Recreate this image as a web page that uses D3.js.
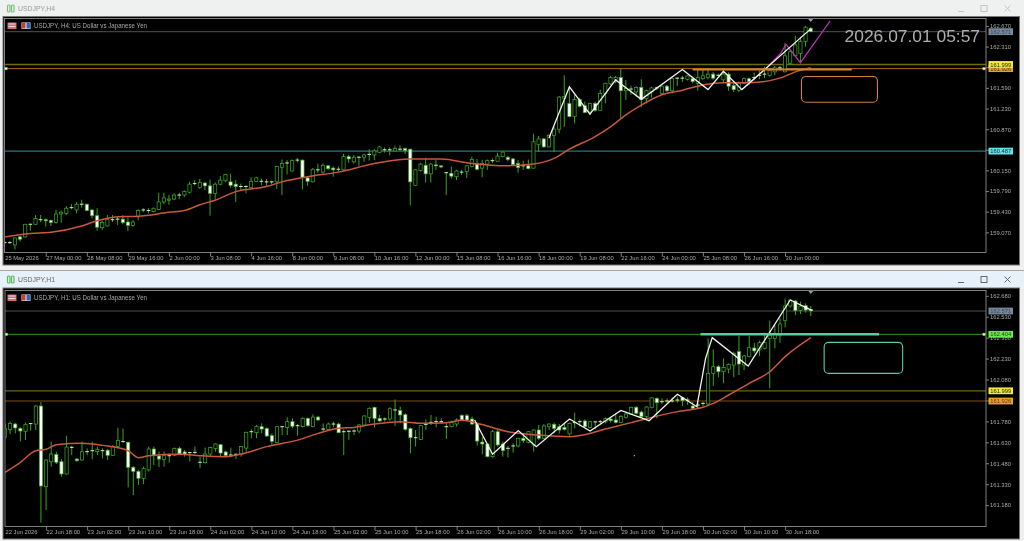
<!DOCTYPE html>
<html><head><meta charset="utf-8">
<script src="https://cdn.jsdelivr.net/npm/d3@7/dist/d3.min.js"></script>
<style>html,body{margin:0;padding:0;background:#f0f0f0;overflow:hidden}svg{display:block;filter:blur(.35px)}text{font-family:"Liberation Sans",Arial,sans-serif}</style>
</head><body><div id="chart"></div>
<script>
// ---------- H4 data: [open, high, low, close]
const h4Ohlc=[
[158.89,158.92,158.87,158.89],[158.89,158.92,158.87,158.89],[158.85,158.98,158.77,158.97],[158.99,159.00,158.91,158.95],[158.99,159.22,158.98,159.21],[159.21,159.22,159.10,159.21],[159.21,159.37,159.20,159.31],[159.29,159.37,159.25,159.29],
[159.29,159.31,159.17,159.27],[159.28,159.29,159.18,159.24],[159.24,159.46,159.22,159.39],[159.39,159.45,159.24,159.42],[159.40,159.53,159.37,159.49],[159.50,159.56,159.47,159.50],[159.46,159.60,159.40,159.56],[159.56,159.64,159.50,159.56],
[159.56,159.57,159.44,159.45],[159.46,159.47,159.31,159.36],[159.36,159.49,159.10,159.16],[159.15,159.27,159.11,159.24],[159.18,159.37,159.17,159.29],[159.29,159.37,159.25,159.29],[159.30,159.35,159.20,159.30],[159.30,159.37,159.21,159.24],
[159.25,159.33,159.09,159.19],[159.19,159.28,159.17,159.25],[159.34,159.47,159.28,159.45],[159.46,159.49,159.42,159.46],[159.45,159.49,159.40,159.45],[159.43,159.50,159.42,159.49],[159.47,159.76,159.46,159.60],[159.60,159.76,159.56,159.67],
[159.63,159.72,159.55,159.65],[159.65,159.75,159.63,159.72],[159.72,159.76,159.65,159.72],[159.72,159.80,159.69,159.78],[159.77,159.95,159.75,159.91],[159.92,159.98,159.89,159.92],[159.85,160.00,159.83,159.94],[159.93,159.95,159.81,159.88],
[159.88,159.99,159.36,159.75],[159.75,159.94,159.64,159.91],[159.91,160.05,159.89,159.98],[159.97,160.09,159.95,160.08],[159.95,160.09,159.85,159.89],[159.91,159.98,159.60,159.87],[159.87,159.92,159.80,159.87],[159.87,159.89,159.75,159.87],
[159.85,160.03,159.83,159.96],[159.96,160.04,159.95,160.02],[159.96,160.01,159.89,159.96],[159.95,160.00,159.88,159.95],[159.95,159.97,159.91,159.95],[159.95,160.23,159.83,160.22],[160.20,160.34,159.72,160.27],[160.28,160.33,160.08,160.28],
[160.14,160.34,160.13,160.32],[160.33,160.37,160.29,160.33],[160.33,160.34,159.82,160.03],[160.02,160.04,159.88,159.96],[159.95,160.19,159.94,160.17],[160.16,160.27,160.11,160.16],[160.12,160.27,160.10,160.24],[160.23,160.24,160.16,160.18],
[160.19,160.22,160.04,160.16],[160.17,160.22,160.13,160.17],[160.16,160.44,160.15,160.39],[160.39,160.42,160.28,160.35],[160.30,160.42,160.27,160.38],[160.38,160.40,160.23,160.38],[160.38,160.44,160.30,160.42],[160.43,160.52,160.32,160.43],
[160.42,160.52,160.33,160.49],[160.46,160.58,160.45,160.56],[160.51,160.55,160.46,160.51],[160.51,160.55,160.41,160.51],[160.49,160.58,160.48,160.53],[160.52,160.59,160.49,160.52],[160.53,160.55,160.44,160.50],[160.52,160.53,159.54,159.95],
[159.89,160.17,159.88,160.16],[160.15,160.28,160.13,160.26],[160.24,160.37,159.94,160.09],[160.09,160.28,159.94,160.26],[160.24,160.33,160.16,160.24],[160.23,160.24,160.19,160.21],[160.11,160.12,159.72,160.11],[160.10,160.22,160.01,160.05],
[160.04,160.16,159.98,160.14],[160.12,160.16,160.07,160.12],[160.13,160.24,160.02,160.23],[160.22,160.39,160.20,160.34],[160.27,160.35,160.15,160.17],[160.19,160.33,160.03,160.27],[160.26,160.34,160.16,160.32],[160.32,160.36,160.28,160.32],
[160.31,160.46,160.30,160.40],[160.39,160.48,160.38,160.47],[160.38,160.40,160.31,160.34],[160.35,160.37,160.24,160.25],[160.27,160.33,160.11,160.20],[160.23,160.32,160.16,160.23],[160.23,160.34,160.17,160.18],[160.19,160.79,160.18,160.65],
[160.60,160.75,160.47,160.70],[160.70,160.71,160.55,160.56],[160.56,160.78,160.55,160.76],[160.76,160.92,160.47,160.87],[160.87,161.45,160.80,161.43],[161.41,161.81,160.91,161.44],[161.32,161.62,161.08,161.09],[161.09,161.47,160.97,161.39],
[161.39,161.42,161.25,161.27],[161.28,161.35,161.15,161.16],[161.17,161.33,161.13,161.32],[161.32,161.35,161.17,161.20],[161.20,161.56,161.19,161.49],[161.49,161.68,161.32,161.67],[161.66,161.80,161.64,161.77],[161.74,161.80,161.67,161.77],
[161.77,161.92,161.06,161.54],[161.54,161.73,161.38,161.58],[161.57,161.63,161.47,161.57],[161.52,161.62,161.44,161.60],[161.60,161.74,161.25,161.39],[161.40,161.56,161.32,161.54],[161.52,161.61,161.42,161.59],[161.59,161.61,161.55,161.59],
[161.49,161.63,161.47,161.62],[161.62,161.64,161.52,161.54],[161.54,161.77,161.49,161.75],[161.76,161.77,161.62,161.76],[161.76,161.80,161.69,161.76],[161.74,161.81,161.72,161.80],[161.75,161.79,161.67,161.70],[161.67,161.93,161.54,161.77],
[161.75,161.90,161.73,161.80],[161.77,161.94,161.74,161.83],[161.83,161.87,161.73,161.76],[161.81,161.84,161.80,161.81],[161.73,161.90,161.67,161.83],[161.83,161.86,161.54,161.62],[161.63,161.67,161.52,161.56],[161.55,161.70,161.52,161.67],
[161.67,161.77,161.66,161.75],[161.75,161.77,161.64,161.70],[161.77,161.86,161.72,161.77],[161.81,161.89,161.74,161.81],[161.83,161.96,161.76,161.83],[161.81,161.93,161.79,161.90],[161.87,161.97,161.81,161.94],[161.94,161.97,161.90,161.94],
[161.87,162.37,161.86,162.15],[162.02,162.26,161.99,162.22],[162.15,162.50,162.13,162.34],[162.19,162.48,162.02,162.40],[162.40,162.67,162.31,162.65],[162.63,162.65,162.57,162.57]];
const h4MaBars=[0,5,9,15,18,22,26,32,35,38,41,45,51,54,59,65,72,79,85,91,98,103,107,110,115,118,121,124,128,132,136,140,145,151,154,157];
const h4MaPrices=[158.99,159.05,159.07,159.18,159.27,159.34,159.35,159.42,159.45,159.55,159.63,159.78,159.87,159.95,160.04,160.12,160.27,160.35,160.35,160.27,160.23,160.26,160.36,160.52,160.74,160.91,161.12,161.29,161.47,161.55,161.64,161.68,161.68,161.76,161.87,161.94];
const h4ZigBars=[106,110,114,119,124,132,137,140,143.6,157];
const h4ZigPrices=[160.71,161.61,161.13,161.73,161.39,161.91,161.56,161.88,161.56,162.62];
const h4TrendBars=[143.6,148.3,151.2,152.2,155,160.8];
const h4TrendPrices=[161.56,161.93,162.20,162.35,162.03,162.76];
const h4PriceTicks=[162.67,162.31,161.95,161.59,161.23,160.87,160.51,160.15,159.79,159.43,159.07];
const h4TimeLabels=["25 May 2026","27 May 00:00","28 May 08:00","29 May 16:00","2 Jun 00:00","3 Jun 08:00","4 Jun 16:00","8 Jun 00:00","9 Jun 08:00","10 Jun 16:00","12 Jun 00:00","15 Jun 08:00","16 Jun 16:00","18 Jun 00:00","19 Jun 08:00","22 Jun 16:00","24 Jun 00:00","25 Jun 08:00","26 Jun 16:00","30 Jun 00:00"];
const h4Levels=[162.571,161.926,161.999,160.487];
const h4Segment={from:134,to:165,price:161.91};
const h4Box={from:155.2,to:170,top:161.79,bottom:161.34};

// ---------- H1 data: [open, high, low, close]
const h1Ohlc=[
[161.666,161.766,161.659,161.728],[161.723,161.778,161.690,161.766],[161.761,161.771,161.694,161.733],[161.730,161.737,161.637,161.711],[161.709,161.771,161.647,161.759],[161.764,161.766,161.714,161.764],[161.761,161.897,161.718,161.890],[161.890,161.919,161.054,161.317],
[161.312,161.508,161.145,161.503],[161.491,161.635,161.456,161.546],[161.544,161.563,161.475,161.487],[161.491,161.510,161.384,161.403],[161.403,161.678,161.398,161.596],[161.594,161.604,161.539,161.594],[161.510,161.515,161.491,161.498],[161.503,161.635,161.498,161.563],
[161.563,161.587,161.539,161.563],[161.570,161.635,161.508,161.570],[161.563,161.599,161.539,161.580],[161.570,161.587,161.515,161.570],[161.573,161.582,161.503,161.537],[161.537,161.611,161.532,161.599],[161.599,161.735,161.587,161.642],[161.635,161.728,161.627,161.635],
[161.630,161.635,161.307,161.451],[161.451,161.460,161.252,161.422],[161.422,161.432,161.324,161.372],[161.372,161.456,161.331,161.441],[161.432,161.599,161.420,161.582],[161.582,161.599,161.467,161.539],[161.532,161.563,161.451,161.510],[161.508,161.563,161.456,161.534],
[161.534,161.551,161.484,161.534],[161.537,161.592,161.532,161.587],[161.587,161.599,161.539,161.546],[161.561,161.575,161.527,161.546],[161.556,161.563,161.491,161.556],[161.558,161.599,161.546,161.558],[161.487,161.527,161.444,161.487],[161.484,161.592,161.479,161.546],
[161.546,161.599,161.527,161.592],[161.585,161.623,161.563,161.618],[161.613,161.618,161.532,161.553],[161.561,161.570,161.527,161.537],[161.539,161.592,161.522,161.539],[161.544,161.551,161.510,161.544],[161.546,161.604,161.527,161.599],[161.589,161.706,161.563,161.702],
[161.706,161.723,161.659,161.706],[161.699,161.754,161.659,161.742],[161.742,161.766,161.694,161.725],[161.728,161.737,161.670,161.675],[161.678,161.694,161.611,161.637],[161.627,161.747,161.623,161.742],[161.742,161.747,161.682,161.742],[161.735,161.809,161.682,161.778],
[161.778,161.802,161.730,161.745],[161.749,161.761,161.678,161.749],[161.742,161.809,161.737,161.802],[161.802,161.807,161.742,161.749],[161.742,161.831,161.737,161.811],[161.811,161.819,161.785,161.790],[161.725,161.766,161.706,161.725],[161.723,161.771,161.718,161.761],
[161.761,161.778,161.737,161.761],[161.761,161.771,161.694,161.699],[161.706,161.723,161.539,161.706],[161.709,161.718,161.647,161.709],[161.711,161.723,161.682,161.711],[161.711,161.761,161.694,161.754],[161.754,161.823,161.747,161.819],[161.809,161.881,161.771,161.874],
[161.881,161.885,161.737,161.802],[161.802,161.826,161.778,161.783],[161.797,161.809,161.778,161.797],[161.797,161.881,161.785,161.871],[161.862,161.938,161.747,161.862],[161.857,161.885,161.766,161.826],[161.828,161.838,161.714,161.723],[161.728,161.737,161.551,161.663],
[161.663,161.718,161.599,161.663],[161.651,161.754,161.647,161.749],[161.759,161.795,161.718,161.759],[161.773,161.826,161.754,161.773],[161.778,161.814,161.737,161.778],[161.778,161.802,161.761,161.778],[161.742,161.766,161.654,161.742],[161.742,161.785,161.737,161.771],
[161.761,161.802,161.742,161.790],[161.823,161.831,161.785,161.790],[161.821,161.833,161.785,161.790],[161.797,161.814,161.754,161.761],[161.761,161.771,161.606,161.639],[161.632,161.670,161.546,161.618],[161.618,161.623,161.522,161.527],[161.527,161.718,161.520,161.706],
[161.706,161.718,161.599,161.611],[161.618,161.635,161.527,161.570],[161.587,161.604,161.522,161.587],[161.604,161.623,161.556,161.604],[161.604,161.663,161.594,161.659],[161.659,161.694,161.627,161.642],[161.627,161.711,161.623,161.706],[161.611,161.723,161.563,161.718],
[161.718,161.754,161.647,161.659],[161.659,161.761,161.651,161.747],[161.742,161.766,161.718,161.761],[161.759,161.771,161.694,161.730],[161.742,161.761,161.694,161.718],[161.737,161.771,161.714,161.723],[161.690,161.771,161.678,161.766],[161.771,161.842,161.730,161.771],
[161.778,161.795,161.742,161.778],[161.783,161.795,161.737,161.742],[161.737,161.783,161.730,161.778],[161.776,161.785,161.723,161.776],[161.778,161.790,161.754,161.778],[161.776,161.809,161.766,161.800],[161.797,161.807,161.771,161.785],[161.790,161.833,161.766,161.773],
[161.773,161.826,161.771,161.814],[161.809,161.850,161.802,161.833],[161.833,161.885,161.828,161.881],[161.881,161.890,161.831,161.838],[161.847,161.857,161.809,161.814],[161.814,161.890,161.802,161.883],[161.878,161.952,161.874,161.948],[161.945,161.952,161.802,161.914],
[161.921,161.945,161.905,161.921],[161.926,161.945,161.909,161.926],[161.926,161.952,161.914,161.926],[161.933,161.957,161.914,161.933],[161.952,161.957,161.890,161.929],[161.933,161.952,161.897,161.933],[161.890,161.921,161.862,161.874],[161.897,161.921,161.874,161.897],
[161.909,161.921,161.890,161.909],[161.905,162.375,161.890,162.124],[162.124,162.296,162.034,162.172],[162.172,162.184,162.096,162.136],[162.136,162.232,162.053,162.167],[162.155,162.196,162.124,162.189],[162.184,162.280,162.096,162.268],[162.280,162.394,162.112,162.191],
[162.184,162.256,162.148,162.249],[162.244,162.394,162.239,162.308],[162.306,162.344,162.268,162.285],[162.292,162.359,162.249,162.344],[162.304,162.416,162.296,162.344],[162.375,162.502,162.017,162.399],[162.375,162.471,162.304,162.411],[162.399,162.519,162.344,162.478],
[162.502,162.660,162.454,162.607],[162.607,162.657,162.597,162.650],[162.643,162.650,162.542,162.574],[162.574,162.638,162.550,162.607],[162.609,162.626,162.559,162.578],[162.583,162.607,162.535,162.574]];
const h1MaBars=[0,3,6,8,10,15,19,24,26,28,34,38,43,46,51,57.5,61,65,68,72,77,81,86,89,92.5,98,104,110,112,117,122,131,136,138,141,145,149,152,157];
const h1MaPrices=[161.415,161.487,161.570,161.580,161.613,161.623,161.608,161.570,161.520,161.534,161.544,161.534,161.527,161.546,161.599,161.651,161.694,161.730,161.737,161.761,161.778,161.766,161.771,161.788,161.761,161.706,161.682,161.670,161.678,161.725,161.771,161.850,161.881,161.909,161.969,162.053,162.136,162.244,162.380];
const h1ZigBars=[91.5,95,100,103.5,110,114,120,125.5,131,134.8,136.5,137.8,144.8,153,157.3];
const h1ZigPrices=[161.790,161.544,161.714,161.599,161.797,161.711,161.859,161.785,161.974,161.885,162.232,162.380,162.177,162.650,162.574];
const h1PriceTicks=[162.68,162.53,162.38,162.23,162.08,161.93,161.78,161.63,161.48,161.33,161.18];
const h1TimeLabels=["22 Jun 2026","22 Jun 18:00","23 Jun 02:00","23 Jun 10:00","23 Jun 18:00","24 Jun 02:00","24 Jun 10:00","24 Jun 18:00","25 Jun 02:00","25 Jun 10:00","25 Jun 18:00","26 Jun 02:00","26 Jun 10:00","26 Jun 18:00","29 Jun 02:00","29 Jun 10:00","29 Jun 18:00","30 Jun 02:00","30 Jun 10:00","30 Jun 18:00"];
const h1Levels=[162.571,162.404,161.999,161.926];
const h1Segment={from:135.5,to:170.3,price:162.404};
const h1Box={from:159.6,to:174.9,top:162.346,bottom:162.124};
const h1StrayPoint={bar:122.6,price:161.534};

const serverTime="2026.07.01 05:57";
const titles=["USDJPY,H4","USDJPY,H1"];
const captions=["USDJPY, H4:  US Dollar vs Japanese Yen","USDJPY, H1:  US Dollar vs Japanese Yen"];

// ---------- styling
const GRID={wick:"#3aa51e",edge:"#3fae22",doji:"#d8f0c8",ma:"#c9583c",label:"#a9a9a9"};
const AXIS_FONT=5.8;
const svg=d3.select("#chart").append("svg").attr("width",1024).attr("height",541).attr("viewBox","0 0 1024 541");

function panel(o){
  const g=svg.append("g");
  // window chrome
  g.append("rect").attr("x",0).attr("y",o.win).attr("width",1024).attr("height",o.bottomWin-o.win).attr("fill",o.barFill);
  g.append("rect").attr("x",0).attr("y",o.frameTop).attr("width",1024).attr("height",o.bottomWin-o.frameTop).attr("fill","#f0f0f0");
  g.append("rect").attr("x",3).attr("y",o.frameTop).attr("width",1016.5).attr("height",o.bottomBlack-o.frameTop).attr("fill","#000").attr("stroke","#777").attr("stroke-width",1);
  if(o.winLine) g.append("rect").attr("x",0).attr("y",o.win).attr("width",1024).attr("height",1).attr("fill","#a6a6a6");
  // title
  const ic=g.append("g").attr("fill","none").attr("stroke",o.iconColor).attr("stroke-width",1.2);
  ic.append("rect").attr("x",7.5).attr("y",o.titleY-3.5).attr("width",2.5).attr("height",7).attr("rx",1);
  ic.append("rect").attr("x",11.5).attr("y",o.titleY-3.5).attr("width",2.5).attr("height",7).attr("rx",1);
  g.append("text").attr("x",18).attr("y",o.titleY+2.8).attr("font-size",8).attr("textLength",37).attr("lengthAdjust","spacingAndGlyphs").attr("fill",o.titleColor).text(o.title);
  const bc=o.btnColor, by=o.titleY;
  g.append("line").attr("x1",958).attr("x2",964).attr("y1",by+3).attr("y2",by+3).attr("stroke",bc);
  g.append("rect").attr("x",981).attr("y",by-3).attr("width",6).attr("height",6).attr("fill","none").attr("stroke",bc);
  g.append("path").attr("d",`M1004.5 ${by-3}l6 6m0 -6l-6 6`).attr("stroke",bc).attr("fill","none");

  const x=d3.scaleLinear().domain([0,157]).range(o.xRange);
  const y=d3.scaleLinear().domain(o.yDomain).range(o.yRange);
  const id="clip"+o.key;
  svg.append("clipPath").attr("id",id).append("rect").attr("x",o.left).attr("y",o.top).attr("width",o.right-o.left).attr("height",o.bottom-o.top);
  const p=g.append("g").attr("clip-path",`url(#${id})`);

  // levels
  p.selectAll("line.level").data(o.levels).join("line").attr("class","level")
    .attr("x1",o.left).attr("x2",o.right).attr("y1",d=>y(d)).attr("y2",d=>y(d))
    .attr("stroke",(d,i)=>o.levelColors[i]).attr("stroke-width",(d,i)=>o.levelWidths[i]);

  // candles
  const c=p.selectAll("g.candle").data(o.ohlc).join("g").attr("class","candle");
  c.append("line").attr("x1",(d,i)=>x(i)).attr("x2",(d,i)=>x(i)).attr("y1",d=>y(d[1])).attr("y2",d=>y(d[2])).attr("stroke",GRID.wick).attr("stroke-width",1);
  c.filter(d=>d[0]!==d[3]).append("rect")
    .attr("x",d=>x(o.ohlc.indexOf(d))-1.6).attr("width",3.2)
    .attr("y",d=>y(Math.max(d[0],d[3])))
    .attr("height",d=>Math.max(1,Math.abs(y(d[0])-y(d[3]))))
    .attr("fill",d=>d[3]>d[0]?"#000":"#fff").attr("stroke",GRID.edge).attr("stroke-width",.7);
  c.filter(d=>d[0]===d[3]).append("line")
    .attr("x1",d=>x(o.ohlc.indexOf(d))-1.8).attr("x2",d=>x(o.ohlc.indexOf(d))+1.8)
    .attr("y1",d=>y(d[0])).attr("y2",d=>y(d[0])).attr("stroke",GRID.doji).attr("stroke-width",1);

  const line=d3.line().x(d=>x(d[0])).y(d=>y(d[1]));
  p.append("path").attr("d",line.curve(d3.curveMonotoneX)(d3.zip(o.maBars,o.maPrices))).attr("fill","none").attr("stroke",GRID.ma).attr("stroke-width",1.5);
  line.curve(d3.curveLinear);
  if(o.trendBars) p.append("path").attr("d",line(d3.zip(o.trendBars,o.trendPrices))).attr("fill","none").attr("stroke","#bf2fb8").attr("stroke-width",1.2);
  p.append("path").attr("d",line(d3.zip(o.zigBars,o.zigPrices))).attr("fill","none").attr("stroke","#f2f2f2").attr("stroke-width",1.3);
  p.append("line").attr("x1",x(o.segment.from)).attr("x2",x(o.segment.to)).attr("y1",y(o.segment.price)).attr("y2",y(o.segment.price)).attr("stroke",o.segColor).attr("stroke-width",o.segWidth);
  p.append("rect").attr("x",x(o.box.from)).attr("width",x(o.box.to)-x(o.box.from)).attr("y",y(o.box.top)).attr("height",y(o.box.bottom)-y(o.box.top)).attr("rx",4.5)
    .attr("fill","none").attr("stroke",o.segColor).attr("stroke-width",1.1);

  // frame
  g.append("rect").attr("x",o.left).attr("y",o.top).attr("width",o.right-o.left).attr("height",o.bottom-o.top).attr("fill","none").attr("stroke","#8c8c8c").attr("stroke-width",.9);

  // anchor squares & top marker
  [o.left+1.5,o.right-2].forEach(px=>g.append("rect").attr("x",px-1.2).attr("y",y(o.anchor)-1.2).attr("width",2.4).attr("height",2.4).attr("fill","#fff").attr("stroke",o.anchorColor).attr("stroke-width",.5));
  g.append("path").attr("d",d3.line()([[x(157)-2.5,o.top+.5],[x(157)+2.5,o.top+.5],[x(157),o.top+3.5]])+"Z").attr("fill","#8899aa");

  // price axis
  const ya=g.append("g").attr("transform",`translate(${o.right},0)`).call(d3.axisRight(y).tickValues(o.priceTicks).tickFormat(d3.format(".3f")).tickSize(3).tickPadding(1));
  ya.select(".domain").remove();
  ya.selectAll("line").attr("stroke","#999").attr("stroke-width",.8);
  ya.selectAll("text").attr("fill",GRID.label).attr("font-size",AXIS_FONT).attr("font-family",'"Liberation Sans",sans-serif');

  // time axis
  const idx=o.timeLabels.map((d,i)=>i*8);
  const xa=g.append("g").attr("transform",`translate(0,${o.bottom})`).call(d3.axisBottom(x).tickValues(idx).tickFormat((d,i)=>o.timeLabels[i]).tickSize(4).tickPadding(1));
  xa.select(".domain").remove();
  xa.selectAll("line").attr("stroke","#999").attr("stroke-width",.8).filter(d=>d===0).remove();
  xa.selectAll("text").attr("fill",GRID.label).attr("font-size",AXIS_FONT).attr("text-anchor","start").attr("font-family",'"Liberation Sans",sans-serif').attr("dx",0).attr("y",3);

  // price tags
  const tags=g.selectAll("g.tag").data(o.levels).join("g").attr("class","tag");
  tags.append("rect").attr("x",o.right+2.5).attr("width",24.5).attr("y",d=>y(d)-3.4).attr("height",6.8).attr("fill",(d,i)=>o.tagColors[i]);
  tags.append("text").attr("x",o.right+14.7).attr("y",d=>y(d)+2.1).attr("text-anchor","middle").attr("font-size",AXIS_FONT).attr("fill",(d,i)=>o.tagText[i]).text(d=>d.toFixed(3));

  // caption
  g.append("rect").attr("x",7.5).attr("y",o.top+4).attr("width",9).attr("height",6.5).attr("fill","#d86a6a");
  g.append("rect").attr("x",8.5).attr("y",o.top+5).attr("width",7).attr("height",1).attr("fill","#dde");
  g.append("rect").attr("x",8.5).attr("y",o.top+7.5).attr("width",7).attr("height",1).attr("fill","#dde");
  g.append("rect").attr("x",21.5).attr("y",o.top+4).attr("width",9).attr("height",6.5).attr("fill","#e9e9f2");
  g.append("rect").attr("x",22).attr("y",o.top+4.5).attr("width",3.5).attr("height",5.5).attr("fill","#c8402f");
  g.append("rect").attr("x",26.5).attr("y",o.top+4.5).attr("width",3.5).attr("height",5.5).attr("fill","#2f66b8");
  g.append("text").attr("x",34).attr("y",o.top+9.3).attr("font-size",6.4).attr("textLength",113).attr("lengthAdjust","spacingAndGlyphs").attr("fill","#a8a8a8").text(o.caption);
  return {x,y,g};
}

const top4=panel({key:"h4",title:titles[0],caption:captions[0],win:0,bottomWin:270,frameTop:16.5,bottomBlack:265,barFill:"#eff0f0",winLine:false,
  titleY:8.5,titleColor:"#9a9a9a",iconColor:"#7cc07c",btnColor:"#c4c4c4",
  left:4.5,right:986,top:18.5,bottom:252.5,xRange:[4.7,810.7],yDomain:[162.67,159.07],yRange:[26,232.3],
  ohlc:h4Ohlc,maBars:h4MaBars,maPrices:h4MaPrices,zigBars:h4ZigBars,zigPrices:h4ZigPrices,trendBars:h4TrendBars,trendPrices:h4TrendPrices,
  levels:h4Levels,levelColors:["#49525c","#b06a14","#6e6a10","#2f9494"],levelWidths:[1,1,1.5,1],
  tagColors:["#76889c","#eba02a","#f2ea3a","#63e4e4"],tagText:["#3a4450","#333","#222","#224"],
  priceTicks:h4PriceTicks,timeLabels:h4TimeLabels,segment:h4Segment,segColor:"#d4803a",segWidth:2,box:h4Box,anchor:161.926,anchorColor:"#d08a2a"});
const bot1=panel({key:"h1",title:titles[1],caption:captions[1],win:270,bottomWin:541,frameTop:288,bottomBlack:539,barFill:"#e6f1fb",winLine:true,
  titleY:279.5,titleColor:"#666",iconColor:"#5cb85c",btnColor:"#666",
  left:5,right:986,top:290.5,bottom:526.5,xRange:[5,810.8],yDomain:[162.865,161.18],yRange:[270,505.1],
  ohlc:h1Ohlc,maBars:h1MaBars,maPrices:h1MaPrices,zigBars:h1ZigBars,zigPrices:h1ZigPrices,
  levels:h1Levels,levelColors:["#49525c","#2a9a18","#6e6512","#7c4e12"],levelWidths:[1,1,1.2,1.2],
  tagColors:["#76889c","#6be84a","#f2ea3a","#eba02a"],tagText:["#3a4450","#143","#222","#533"],
  priceTicks:h1PriceTicks,timeLabels:h1TimeLabels,segment:h1Segment,segColor:"#58cfa2",segWidth:2.4,box:h1Box,anchor:162.404,anchorColor:"#58c040"});

top4.g.append("text").attr("x",980).attr("y",41.5).attr("text-anchor","end").attr("font-size",17.4).attr("fill","#adadad").text(serverTime);
bot1.g.append("circle").attr("cx",bot1.x(h1StrayPoint.bar)).attr("cy",bot1.y(h1StrayPoint.price)).attr("r",.6).attr("fill","#ddd");
</script></body></html>
